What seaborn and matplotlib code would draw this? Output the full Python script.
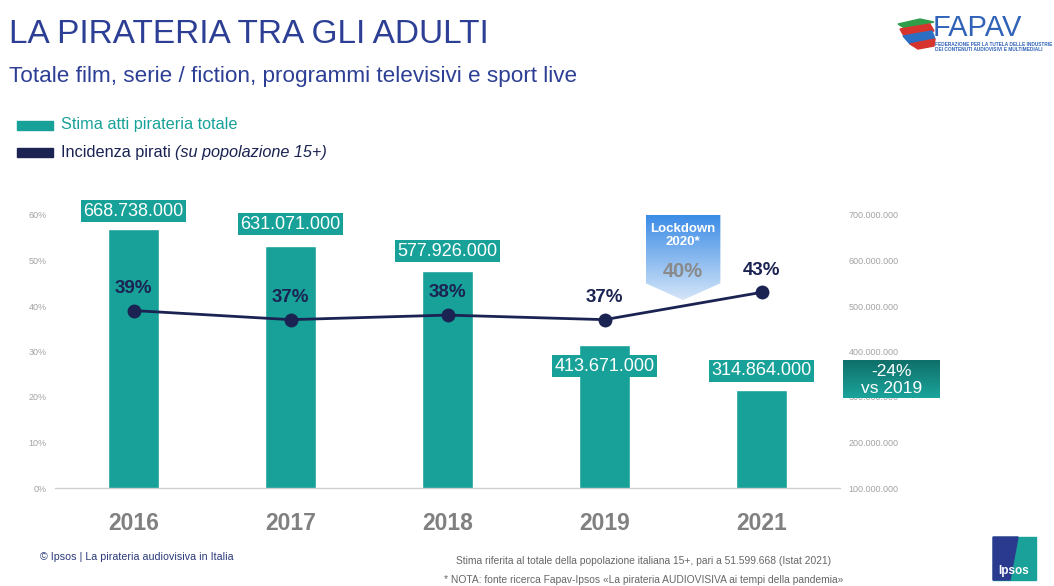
import matplotlib
matplotlib.use("Agg")
import matplotlib.pyplot as plt
import seaborn as sns
import pandas as pd
import numpy as np
from matplotlib.patches import Polygon, Rectangle
from matplotlib.colors import LinearSegmentedColormap
from matplotlib.ticker import FuncFormatter

# Data
years = ["2016", "2017", "2018", "2019", "2021"]
acts = [668738000, 631071000, 577926000, 413671000, 314864000]
incidence = [0.39, 0.37, 0.38, 0.37, 0.43]
lockdown_text = "Lockdown\n2020*"
lockdown_value = "40%"
change_text = "-24%\nvs 2019"
pct_ticks = [0, 0.1, 0.2, 0.3, 0.4, 0.5, 0.6]
acts_ticks = [100e6, 200e6, 300e6, 400e6, 500e6, 600e6, 700e6]

TEAL = "#17a198"
NAVY = "#1b2352"
TITLE_BLUE = "#2c3f95"
GREY_TICK = "#a3a3a3"

sns.set_style("white")
plt.rcParams['font.family'] = ['Liberation Sans', 'DejaVu Sans']

W, H = 1054, 586


def px(x, y):
    """pixel position (top-left origin) -> figure fraction"""
    return x / W, 1 - y / H


df = pd.DataFrame({"year": years, "acts": acts, "incidence": incidence})
df["pos"] = np.arange(len(years))

fig = plt.figure(figsize=(W / 100, H / 100), dpi=100)
fig.patch.set_facecolor("white")

# Main axes: bars on the right-hand scale, line on the left-hand scale
ax = fig.add_axes([55 / W, 1 - 488 / H, 785 / W, 273 / H])
sns.barplot(data=df, x="pos", y="acts", native_scale=True, color=TEAL,
            width=0.32, saturation=1, ax=ax, zorder=2)
ax_line = ax.twinx()
ax.yaxis.tick_right()
ax_line.yaxis.tick_left()

ax.set_xlim(-0.5, 4.5)
ax.set_ylim(100e6, 700e6)
ax.set_yticks(acts_ticks)
ax.yaxis.set_major_formatter(FuncFormatter(lambda v, p: f"{int(v):,}".replace(",", ".")))
ax.set_xticks(df["pos"])
ax.set_xticklabels(years, fontsize=16.5, fontweight="bold", color="#808080")
ax.tick_params(axis="x", length=0, pad=17)
ax.tick_params(axis="y", length=0, pad=6, labelsize=6.5, labelcolor=GREY_TICK)
ax.set_xlabel("")
ax.set_ylabel("")
for s in ["top", "left", "right"]:
    ax.spines[s].set_visible(False)
ax.spines["bottom"].set_color("#d0d0d0")
ax.spines["bottom"].set_linewidth(1)

# Value labels on the bars
label_offsets = [13, 16, 14, -15, 14]
for i, v in enumerate(acts):
    ax.annotate(f"{v:,}".replace(",", "."), xy=(i, v), xytext=(0, label_offsets[i]),
                textcoords="offset points", ha="center", va="center",
                fontsize=13, color="white", zorder=5, annotation_clip=False,
                bbox=dict(boxstyle="square,pad=0.15", fc=TEAL, ec="none"))

# Incidence line
sns.lineplot(data=df, x="pos", y="incidence", color=NAVY, linewidth=2,
             marker="o", markersize=10, markeredgewidth=0, ax=ax_line, zorder=4)
ax_line.set_ylim(0, 0.6)
ax_line.set_xlim(-0.5, 4.5)
ax_line.set_yticks(pct_ticks)
ax_line.yaxis.set_major_formatter(FuncFormatter(lambda v, p: f"{v * 100:.0f}%"))
ax_line.tick_params(axis="y", length=0, pad=6, labelsize=6.5, labelcolor=GREY_TICK)
ax_line.set_ylabel("")
ax_line.set_xlabel("")
for s in ax_line.spines.values():
    s.set_visible(False)
for i, v in enumerate(incidence):
    ax_line.annotate(f"{v * 100:.0f}%", xy=(i, v), xytext=(0, 16),
                     textcoords="offset points", ha="center", va="center",
                     fontsize=13.5, fontweight="bold", color=NAVY,
                     annotation_clip=False)

# Lockdown 2020 arrow between 2019 and 2021
cx, hw = 3.5, 0.238
shape = Polygon([(cx - hw, 0.6), (cx + hw, 0.6), (cx + hw, 0.45),
                 (cx, 0.413), (cx - hw, 0.45)], closed=True,
                facecolor="none", edgecolor="none", transform=ax_line.transData)
ax_line.add_patch(shape)
blue_grad = LinearSegmentedColormap.from_list("bg", ["#d4e5f8", "#3a8be6"])
img = ax_line.imshow(np.linspace(0, 1, 100).reshape(-1, 1), cmap=blue_grad,
                     extent=[cx - hw, cx + hw, 0.413, 0.6], origin="lower",
                     aspect="auto", zorder=3)
img.set_clip_path(shape)
ax_line.set_xlim(-0.5, 4.5)
ax_line.set_ylim(0, 0.6)
ax_line.text(cx, 0.555, lockdown_text, ha="center", va="center", fontsize=9.5,
             fontweight="bold", color="white", linespacing=1.1, zorder=4)
ax_line.text(cx, 0.475, lockdown_value, ha="center", va="center", fontsize=14.5,
             fontweight="bold", color="#8a8a8a", zorder=4)

# -24% vs 2019 box
box_ax = fig.add_axes([843 / W, 1 - 398 / H, 97 / W, 38 / H])
teal_grad = LinearSegmentedColormap.from_list("tg", ["#0f6f69", "#1aa49b"])
box_ax.imshow(np.linspace(0, 1, 50).reshape(-1, 1), cmap=teal_grad, aspect="auto")
box_ax.text(0.5, 0.48, change_text, transform=box_ax.transAxes, ha="center",
            va="center", fontsize=12.5, color="white", linespacing=1.2)
box_ax.axis("off")

# Titles
fig.text(*px(9, 43), "LA PIRATERIA TRA GLI ADULTI", fontsize=24,
         color=TITLE_BLUE, va="baseline")
fig.text(*px(9, 82), "Totale film, serie / fiction, programmi televisivi e sport live",
         fontsize=16.2, color=TITLE_BLUE, va="baseline")

# Legend
fig.add_artist(Rectangle(px(17, 130), 36 / W, 9 / H, color=TEAL, transform=fig.transFigure))
fig.add_artist(Rectangle(px(17, 157), 36 / W, 9 / H, color=NAVY, transform=fig.transFigure))
fig.text(*px(61, 125), "Stima atti pirateria totale", fontsize=11.7, color=TEAL, va="center")
t1 = fig.text(*px(61, 153), "Incidenza pirati ", fontsize=11.7, color=NAVY, va="center")
renderer = fig.canvas.get_renderer()
bb = t1.get_window_extent(renderer)
fig.text(bb.x1 / W, 1 - 153 / H, "(su popolazione 15+)", fontsize=11.7, color=NAVY,
         va="center", style="italic")

# FAPAV logo
ribbon = [("#2f9e4a", [(898, 24), (920, 19), (934, 22), (906, 29)]),
          ("#d7342e", [(900, 29), (930, 24), (934, 31), (904, 36)]),
          ("#2a6fc4", [(903, 36), (932, 31), (935, 39), (910, 44)]),
          ("#d7342e", [(910, 44), (935, 39), (934, 46), (918, 49)])]
for col, pts in ribbon:
    fig.add_artist(Polygon([px(x, y) for x, y in pts], closed=True, color=col,
                           transform=fig.transFigure))
fig.text(*px(933, 36), "FAPAV", fontsize=21, color="#3063b8", va="baseline")
fig.text(*px(935, 46), "FEDERAZIONE PER LA TUTELA DELLE INDUSTRIE", fontsize=3.4,
         color="#3063b8", va="baseline", fontweight="bold")
fig.text(*px(935, 51), "DEI CONTENUTI AUDIOVISIVI E MULTIMEDIALI", fontsize=3.4,
         color="#3063b8", va="baseline", fontweight="bold")

# Footer
fig.text(*px(40, 557), "© Ipsos | La pirateria audiovisiva in Italia", fontsize=7.7,
         color="#2b3a7a", va="center")
fig.text(*px(644, 561), "Stima riferita al totale della popolazione italiana 15+, pari a 51.599.668 (Istat 2021)",
         fontsize=7.4, color="#666666", ha="center", va="center")
fig.text(*px(644, 580), "* NOTA: fonte ricerca Fapav-Ipsos «La pirateria AUDIOVISIVA ai tempi della pandemia»",
         fontsize=7.4, color="#666666", ha="center", va="center")

# Ipsos logo
fig.add_artist(Polygon([px(993, 537), px(1036, 537), px(1036, 580), px(993, 580)],
                       closed=True, color="#1aa19a", transform=fig.transFigure))
fig.add_artist(Polygon([px(993, 537), px(1018, 537), px(1010, 580), px(993, 580)],
                       closed=True, color="#2a3b8f", transform=fig.transFigure))
fig.text(*px(1014, 571), "Ipsos", fontsize=8.5, fontweight="bold", color="white",
         ha="center", va="center")

fig.savefig("out.png", dpi=100, facecolor="white")
